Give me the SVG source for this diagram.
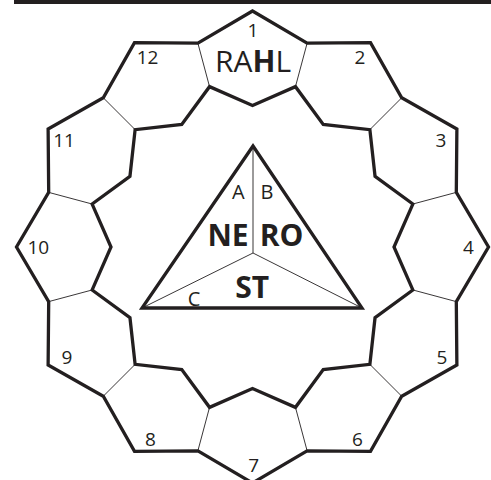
<svg xmlns="http://www.w3.org/2000/svg" width="491" height="480" viewBox="0 0 491 480">
<style>
.bold{fill:none;stroke:#231f20;stroke-width:3.3;stroke-linejoin:miter;stroke-miterlimit:10}
.thin{fill:none;stroke:#231f20;stroke-width:0.9}
.num{font-family:"Open Sans","Liberation Sans",sans-serif;font-size:19px;fill:#231f20;text-anchor:middle}
.big{font-family:"Open Sans","Liberation Sans",sans-serif;font-size:30px;fill:#231f20;text-anchor:middle}
.let{font-family:"Open Sans","Liberation Sans",sans-serif;font-size:20px;fill:#231f20;text-anchor:middle}
.bb{font-family:"Open Sans","Liberation Sans",sans-serif;font-size:30px;font-weight:bold;fill:#231f20;text-anchor:middle}
</style>
<rect x="14" y="0" width="477" height="4" fill="#231f20"/>
<g id="dividers">
<path class="thin" d="M307.11,43.19L295.46,86.66 M401.70,97.80L369.88,129.62 M456.31,192.39L412.84,204.04 M456.31,301.61L412.84,289.96 M401.70,396.20L369.88,364.38 M307.11,450.81L295.46,407.34 M197.89,450.81L209.54,407.34 M103.30,396.20L135.12,364.38 M48.69,301.61L92.16,289.96 M48.69,192.39L92.16,204.04 M103.30,97.80L135.12,129.62 M197.89,43.19L209.54,86.66"/>
</g>
<g id="cell-1"><text class="num" x="253" y="36.5">1</text><text class="big" x="253" y="72">RA<tspan font-weight="bold">H</tspan>L</text></g>
<g id="cell-2"><text class="num" x="360" y="63.5">2</text></g>
<g id="cell-3"><text class="num" x="441" y="146.5">3</text></g>
<g id="cell-4"><text class="num" x="468.5" y="253.5">4</text></g>
<g id="cell-5"><text class="num" x="442" y="363.5">5</text></g>
<g id="cell-6"><text class="num" x="357.5" y="445.5">6</text></g>
<g id="cell-7"><text class="num" x="253.7" y="472">7</text></g>
<g id="cell-8"><text class="num" x="150.5" y="445.5">8</text></g>
<g id="cell-9"><text class="num" x="67" y="363.5">9</text></g>
<g id="cell-10"><text class="num" x="38.3" y="253.5">10</text></g>
<g id="cell-11"><text class="num" x="64" y="146.5">11</text></g>
<g id="cell-12"><text class="num" x="147.5" y="63.5">12</text></g>
<g id="ring">
<polygon class="bold" points="252.5,11 307.11,43.19 370.5,42.62 401.70,97.80 456.88,129 456.31,192.39 488.5,247 456.31,301.61 456.88,365 401.70,396.20 370.5,451.38 307.11,450.81 252.5,483 197.89,450.81 134.5,451.38 103.30,396.20 48.12,365 48.69,301.61 16.5,247 48.69,192.39 48.12,129 103.30,97.80 134.5,42.62 197.89,43.19"/>
<polygon class="bold" points="252.5,105.5 295.46,86.66 323.25,124.46 369.88,129.62 375.04,176.25 412.84,204.04 394,247 412.84,289.96 375.04,317.75 369.88,364.38 323.25,369.54 295.46,407.34 252.5,388.5 209.54,407.34 181.75,369.54 135.12,364.38 129.96,317.75 92.16,289.96 111,247 92.16,204.04 129.96,176.25 135.12,129.62 181.75,124.46 209.54,86.66"/>
</g>
<g id="triangle">
<path class="thin" d="M253,146L253,253 M142,308L253,253L362,308"/>
<polygon class="bold" points="253,146 362,308 142,308"/>
<text class="let" x="238.3" y="199">A</text>
<text class="let" x="267" y="199">B</text>
<text class="let" x="194" y="305.5">C</text>
<text class="bb" x="228" y="245.5">NE</text>
<text class="bb" x="281.5" y="245.5">RO</text>
<text class="bb" x="252.2" y="298.3">ST</text>
</g>
</svg>
